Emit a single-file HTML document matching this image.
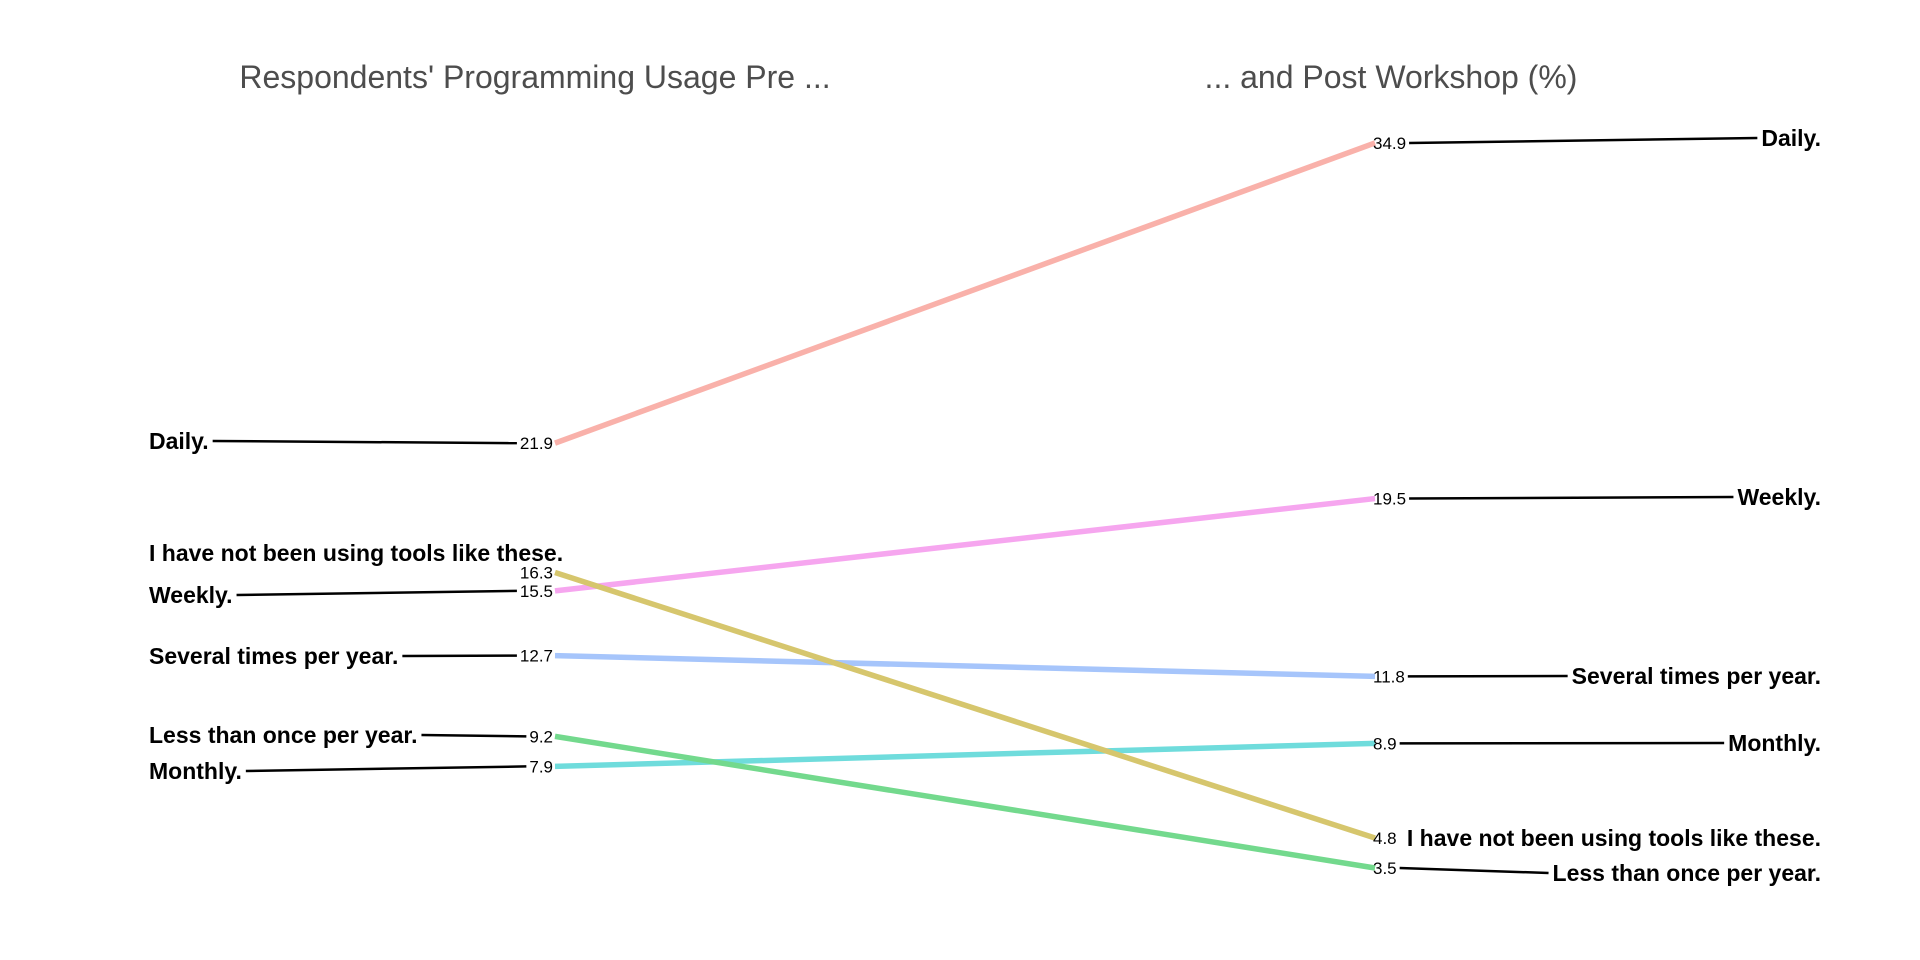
<!DOCTYPE html>
<html><head><meta charset="utf-8"><style>
html,body{margin:0;padding:0;background:#fff;}
svg{display:block;font-family:"Liberation Sans",Arial,sans-serif;}
</style></head><body>
<svg id="chart" width="1920" height="960" viewBox="0 0 1920 960">
<text x="535" y="88" text-anchor="middle" font-size="32" fill="#4d4d4d">Respondents' Programming Usage Pre ...</text>
<text x="1391" y="88" text-anchor="middle" font-size="32" fill="#4d4d4d">... and Post Workshop (%)</text>
<g id="lines"></g><g id="labels"></g>
</svg>
<script>
const categories = ["Daily.","Weekly.","Several times per year.","Monthly.","Less than once per year.","I have not been using tools like these."];
const preValues = [21.9,15.5,12.7,7.9,9.2,16.3];
const postValues = [34.9,19.5,11.8,8.9,3.5,4.8];
const colors = ["#f9b1aa","#f6a6ef","#a6c5fb","#6fdcdc","#73d98d","#d6c66d"];
// layout (repelled label rows)
const leftLabelY = [441,595,656,771,735,553];
const rightLabelY = [138,497,676,743,873,838];
const XL=555, XR=1375;
function y(v){return 868-(v-3.5)*23.09;}
const NS="http://www.w3.org/2000/svg";
const gL=document.getElementById('lines'), gT=document.getElementById('labels');
function mk(tag,attrs,parent){const e=document.createElementNS(NS,tag);for(const k in attrs)e.setAttribute(k,attrs[k]);parent.appendChild(e);return e;}
categories.forEach((c,i)=>{
  const ln=mk('line',{x1:XL,y1:y(preValues[i]),x2:XR,y2:y(postValues[i]),stroke:colors[i],'stroke-width':5.5},gL);
  
  
  const vl=mk('text',{x:XL-2,y:y(preValues[i])+6,'text-anchor':'end','font-size':17,fill:'#000'},gT);
  vl.textContent=preValues[i].toFixed(1);
  
  
  const vr=mk('text',{x:XR-2,y:y(postValues[i])+6,'text-anchor':'start','font-size':17,fill:'#000'},gT);
  vr.textContent=postValues[i].toFixed(1);
  
  
  const cl=mk('text',{x:149,y:leftLabelY[i]+8,'font-size':23,'font-weight':'bold',fill:'#000'},gT);
  cl.textContent=c;
  
  
  const cr=mk('text',{x:1821,y:rightLabelY[i]+8,'text-anchor':'end','font-size':23,'font-weight':'bold',fill:'#000'},gT);
  cr.textContent=c;
  
  
  const lEnd=149+cl.getComputedTextLength()+4, lStart=XL-2-vl.getComputedTextLength()-3;
  if(lStart-lEnd>10){const s=mk('line',{x1:lEnd,y1:leftLabelY[i],x2:lStart,y2:y(preValues[i]),stroke:'#000','stroke-width':2.5},gT);
    
    }
  const rStart=XR-2+vr.getComputedTextLength()+3, rEnd=1821-cr.getComputedTextLength()-4;
  if(rEnd-rStart>10){const s=mk('line',{x1:rStart,y1:y(postValues[i]),x2:rEnd,y2:rightLabelY[i],stroke:'#000','stroke-width':2.5},gT);
    
    }
});
</script>
</body></html>
